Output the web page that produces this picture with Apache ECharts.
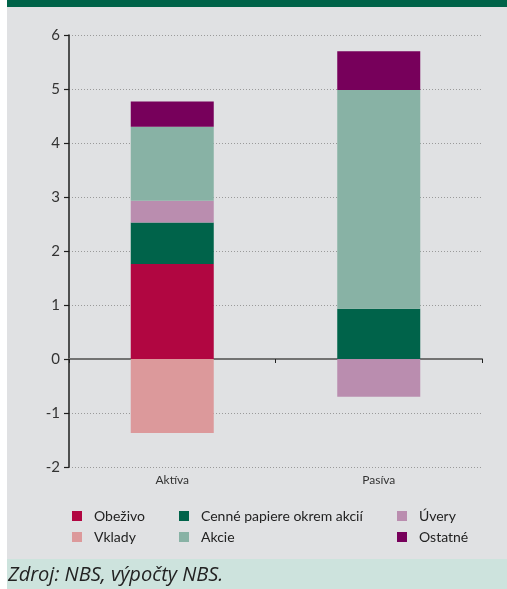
<!DOCTYPE html>
<html>
<head>
<meta charset="utf-8">
<script src="https://cdn.jsdelivr.net/npm/echarts@6/dist/echarts.min.js"></script>
<style>
  html, body { margin: 0; padding: 0; background: #ffffff; }
  #chart { width: 507px; height: 589px; }
</style>
</head>
<body>
<div id="chart"></div>
<script>
// Categories on the horizontal axis
const categories = ['Aktíva', 'Pasíva'];

// Component values (percentage points), one entry per category
const obezivo = [1.76, 0];
const vklady = [-1.37, 0];
const cennePapiere = [0.77, 0.93];
const uvery = [0.40, -0.70];
const akcie = [1.37, 4.05];
const ostatne = [0.47, 0.72];

// Vertical axis range
const yMin = -2;
const yMax = 6;
const yStep = 1;

const sourceNote = 'Zdroj: NBS, výpočty NBS.';

const FONT = 'Lato, "Open Sans", sans-serif';

const colors = {
  'Obeživo': '#b10641',
  'Vklady': '#dc999b',
  'Cenné papiere okrem akcií': '#00634a',
  'Akcie': '#88b2a5',
  'Úvery': '#ba8daf',
  'Ostatné': '#77005b'
};

function barSeries(name, values) {
  return {
    name: name,
    type: 'bar',
    stack: 'total',
    barWidth: 83,
    xAxisIndex: 0,
    itemStyle: { color: colors[name] },
    data: values
  };
}

const legendBase = {
  orient: 'vertical',
  top: 509,
  padding: 0,
  icon: 'rect',
  itemWidth: 10,
  itemHeight: 10,
  itemGap: 7,
  selectedMode: false,
  textStyle: { fontFamily: FONT, fontSize: 14, color: '#222', padding: [0, 0, 0, 7] }
};

const chart = echarts.init(document.getElementById('chart'), null, { renderer: 'canvas' });

chart.setOption({
  animation: false,
  backgroundColor: '#ffffff',
  graphic: [
    { type: 'rect', z: -10, shape: { x: 7, y: 0, width: 500, height: 7 }, style: { fill: '#006349' } },
    { type: 'rect', z: -10, shape: { x: 7, y: 7, width: 500, height: 552 }, style: { fill: '#e0e1e3' } },
    { type: 'rect', z: -10, shape: { x: 7, y: 559, width: 500, height: 30 }, style: { fill: '#cde3dd' } },
    {
      type: 'text', left: 8, top: 565,
      style: { text: sourceNote, fontFamily: '"Open Sans", sans-serif', fontStyle: 'italic', fontSize: 20, fill: '#222' }
    }
  ],
  grid: { left: 69, right: 25, top: 35, bottom: 122, containLabel: false },
  legend: [
    Object.assign({}, legendBase, { left: 72, data: ['Obeživo', 'Vklady'] }),
    Object.assign({}, legendBase, { left: 179, data: ['Cenné papiere okrem akcií', 'Akcie'] }),
    Object.assign({}, legendBase, { left: 397, data: ['Úvery', 'Ostatné'] })
  ],
  xAxis: [
    {
      // category labels along the bottom of the plot
      type: 'category',
      data: categories,
      position: 'bottom',
      axisLine: { show: false, onZero: false },
      axisTick: { show: false },
      axisLabel: { fontFamily: FONT, fontSize: 12, color: '#333', margin: 7 }
    },
    {
      // zero line with its category ticks
      type: 'category',
      data: categories,
      position: 'bottom',
      axisLine: { show: true, onZero: true, lineStyle: { color: '#727272', width: 2 } },
      axisTick: { show: true, length: 4, lineStyle: { color: '#222', width: 1 } },
      axisLabel: { show: false }
    }
  ],
  yAxis: {
    type: 'value',
    min: yMin,
    max: yMax,
    interval: yStep,
    axisLine: { show: true, lineStyle: { color: '#1e1e1e', width: 1.5 } },
    axisTick: { show: true, length: 5, lineStyle: { color: '#1e1e1e', width: 1.2 } },
    axisLabel: { fontFamily: FONT, fontSize: 15, color: '#333', margin: 9 },
    splitLine: { show: true, lineStyle: { color: '#9a9a9a', type: [1, 2], width: 1 } }
  },
  series: [
    barSeries('Obeživo', obezivo),
    barSeries('Vklady', vklady),
    barSeries('Cenné papiere okrem akcií', cennePapiere),
    barSeries('Úvery', uvery),
    barSeries('Akcie', akcie),
    barSeries('Ostatné', ostatne)
  ]
});
</script>
</body>
</html>
